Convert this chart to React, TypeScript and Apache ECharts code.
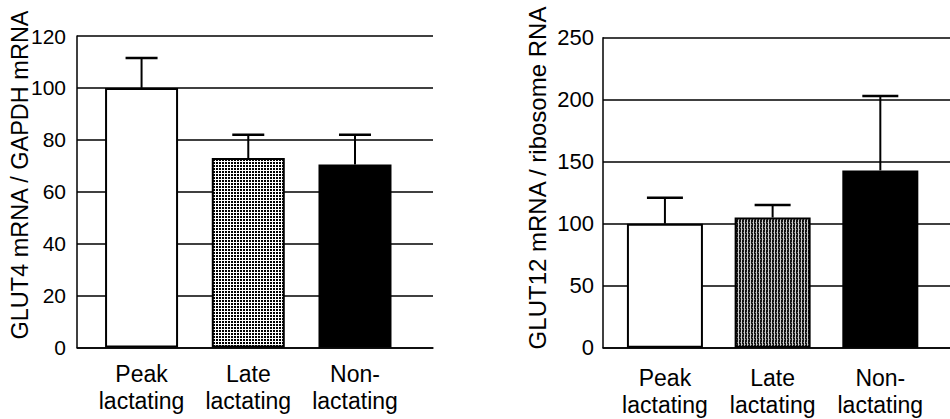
import React, { useEffect, useRef } from "react";
import * as echarts from "echarts";

const categories = ["Peak\nlactating", "Late\nlactating", "Non-\nlactating"];
const glut4Mean = [100, 73, 70.5];
const glut4Err = [11.5, 9, 11.5];
const glut12Mean = [100, 105, 143];
const glut12Err = [21, 10, 60];
const glut4Ticks = { min: 0, max: 120, interval: 20 };
const glut12Ticks = { min: 0, max: 250, interval: 50 };
const glut4Title = "GLUT4 mRNA / GAPDH mRNA";
const glut12Title = "GLUT12 mRNA / ribosome RNA";

const FONT = "'Liberation Sans', Arial, Helvetica, sans-serif";

function makeDotPattern(): HTMLCanvasElement {
  const c = document.createElement("canvas");
  c.width = 3;
  c.height = 3;
  const ctx = c.getContext("2d")!;
  ctx.fillStyle = "#fff";
  ctx.fillRect(0, 0, 3, 3);
  ctx.fillStyle = "#000";
  ctx.fillRect(0, 0, 2, 2);
  return c;
}

function makeStripePattern(): HTMLCanvasElement {
  const c = document.createElement("canvas");
  c.width = 3;
  c.height = 5;
  const ctx = c.getContext("2d")!;
  ctx.fillStyle = "#cfcfcf";
  ctx.fillRect(0, 0, 3, 5);
  ctx.fillStyle = "#141414";
  ctx.fillRect(1, 0, 2, 5);
  ctx.fillStyle = "#777";
  ctx.fillRect(2, 2, 1, 1);
  ctx.fillRect(1, 4, 1, 1);
  return c;
}

export default function App() {
  const ref = useRef<HTMLDivElement>(null);
  useEffect(() => {
    if (!ref.current) return;
    const chart = echarts.init(ref.current, undefined, { renderer: "svg" });
    const dotFill: any = { image: makeDotPattern(), repeat: "repeat" };
    const stripeFill: any = { image: makeStripePattern(), repeat: "repeat" };
    const fillsLeft = ["#fff", dotFill, "#000"];
    const fillsRight = ["#fff", stripeFill, "#000"];
    const idx = categories.map((_, i) => i);

    const xAxisBase = (min: number, max: number, gridIndex: number, margin: number) => ({
      type: "value",
      gridIndex,
      min,
      max,
      splitLine: { show: false },
      axisTick: { show: false },
      axisLine: { show: true, onZero: false, lineStyle: { color: "#000", width: 1.5 } },
      axisLabel: {
        customValues: idx,
        formatter: (v: number) => categories[Math.round(v)] ?? "",
        color: "#000",
        fontFamily: FONT,
        fontSize: 23,
        lineHeight: 27,
        margin,
        showMinLabel: true,
        showMaxLabel: true,
      },
    });

    const yAxisBase = (t: any, gridIndex: number, fontSize: number, margin: number) => ({
      type: "value",
      gridIndex,
      min: t.min,
      max: t.max,
      interval: t.interval,
      axisTick: { show: false },
      axisLine: { show: true, onZero: false, lineStyle: { color: "#000", width: 1.5 } },
      splitLine: { show: true, lineStyle: { color: "#000", width: 1.5 } },
      axisLabel: { color: "#000", fontFamily: FONT, fontSize, margin },
    });

    const errRender = (cap: number) => (params: any, api: any) => {
      const x = api.value(0);
      const lo = api.value(1);
      const hi = api.value(2);
      const p0 = api.coord([x, lo]);
      const p1 = api.coord([x, hi]);
      return {
        type: "group",
        children: [
          { type: "line", shape: { x1: p0[0], y1: p0[1], x2: p1[0], y2: p1[1] }, style: { stroke: "#000", lineWidth: 2 } },
          { type: "line", shape: { x1: p1[0] - cap / 2, y1: p1[1], x2: p1[0] + cap / 2, y2: p1[1] }, style: { stroke: "#000", lineWidth: 2.5 } },
        ],
      };
    };

    const option: any = {
      animation: false,
      backgroundColor: "#fff",
      grid: [
        { left: 77, top: 36, width: 356, height: 311.5 },
        { left: 603, top: 37.7, width: 360, height: 310 },
      ],
      xAxis: [xAxisBase(-0.605, 2.731, 0, 13), xAxisBase(-0.575, 2.647, 1, 17)],
      yAxis: [yAxisBase(glut4Ticks, 0, 21, 11), yAxisBase(glut12Ticks, 1, 22, 9)],
      graphic: [
        {
          type: "text",
          x: 20,
          y: 175,
          rotation: Math.PI / 2,
          style: { text: glut4Title, fill: "#000", font: `23.5px ${FONT}`, align: "center", verticalAlign: "middle" },
        },
        {
          type: "text",
          x: 537,
          y: 178,
          rotation: Math.PI / 2,
          style: { text: glut12Title, fill: "#000", font: `24px ${FONT}`, align: "center", verticalAlign: "middle" },
        },
      ],
      series: [
        {
          type: "bar",
          xAxisIndex: 0,
          yAxisIndex: 0,
          barWidth: 73,
          data: glut4Mean.map((v, i) => ({
            value: [i, v],
            itemStyle: { color: fillsLeft[i], borderColor: "#000", borderWidth: 2 },
          })),
          z: 2,
        },
        {
          type: "custom",
          xAxisIndex: 0,
          yAxisIndex: 0,
          renderItem: errRender(32),
          encode: { x: 0, y: [1, 2] },
          data: glut4Mean.map((v, i) => [i, v, v + glut4Err[i]]),
          z: 3,
        },
        {
          type: "bar",
          xAxisIndex: 1,
          yAxisIndex: 1,
          barWidth: 76,
          data: glut12Mean.map((v, i) => ({
            value: [i, v],
            itemStyle: { color: fillsRight[i], borderColor: "#000", borderWidth: 2 },
          })),
          z: 2,
        },
        {
          type: "custom",
          xAxisIndex: 1,
          yAxisIndex: 1,
          renderItem: errRender(36),
          encode: { x: 0, y: [1, 2] },
          data: glut12Mean.map((v, i) => [i, v, v + glut12Err[i]]),
          z: 3,
        },
      ],
    };
    chart.setOption(option);
    return () => chart.dispose();
  }, []);
  return (
    <div
      ref={ref}
      style={{ position: "fixed", left: 0, top: 0, width: 950, height: 419, background: "#fff" }}
    />
  );
}
